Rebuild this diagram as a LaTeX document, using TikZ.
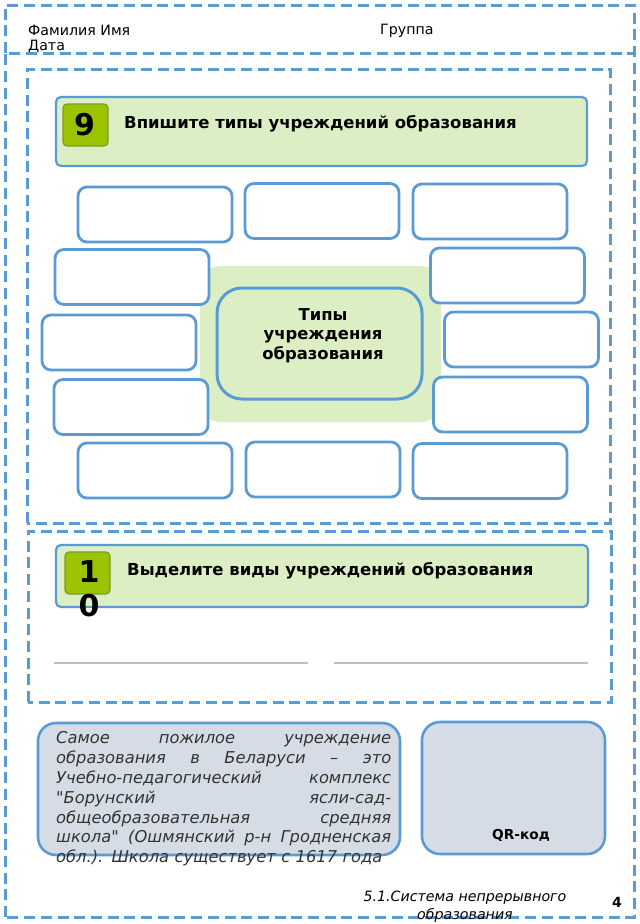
\documentclass[tikz,border=0pt]{standalone}
\usepackage{fontspec}
\setmainfont{DejaVu Sans}
\newfontfamily\notefont{DejaVu Sans}
\definecolor{frameblue}{HTML}{5B9BD5}
\definecolor{lightgreen}{HTML}{DCEFC4}
\definecolor{badgegreen}{HTML}{9BC400}
\definecolor{badgeedge}{HTML}{7A9A2E}
\definecolor{panelgrey}{HTML}{D6DCE5}
\definecolor{rulegrey}{HTML}{BFBFBF}
\definecolor{noteink}{HTML}{333333}
\tikzset{
  dashframe/.style={draw=frameblue,line width=3pt,dash pattern=on 11pt off 5.7pt},
  slot/.style={draw=frameblue,line width=2.8pt,fill=white,rounded corners=9pt,inner sep=0pt,minimum width=154pt,minimum height=55pt},
  banner/.style={draw=frameblue,line width=2.2pt,fill=lightgreen,rounded corners=5pt,inner sep=0pt},
  badge/.style={draw=badgeedge,line width=1.2pt,fill=badgegreen,rounded corners=4pt,inner sep=0pt,minimum width=45pt,minimum height=42pt},
  panel/.style={draw=frameblue,line width=2.6pt,fill=panelgrey,rounded corners=18pt,inner sep=0pt},
  headtext/.style={font=\fontsize{16.5}{20}\selectfont\bfseries,anchor=west,inner sep=0pt},
  plain/.style={font=\fontsize{14.2}{17}\selectfont,anchor=west,inner sep=0pt},
  digit/.style={font=\fontsize{30}{34}\selectfont\bfseries,inner sep=0pt,align=center},
  rulegreyline/.style={draw=rulegrey,line width=2.6pt}
}
\newcommand{\noteline}[1]{\leavevmode\hbox to 335pt{#1}}
\begin{document}
\begin{tikzpicture}[x=1pt,y=-1pt]
\useasboundingbox (0,0) rectangle (640,924);
\fill[white] (0,0) rectangle (640,924);
% dashed frames
\draw[dashframe] (5,53) -- (5,5) -- (634,5) -- (634,53);
\draw[dashframe] (5,917) -- (5,53) -- (634,53) -- (634,917) -- cycle;
\draw[dashframe] (27,523) -- (27,69) -- (610,69) -- (610,523) -- cycle;
\draw[dashframe] (28,702) -- (28,531) -- (611,531) -- (611,702) -- cycle;
% header
\node[plain] (surname) at (28,30.5) {Фамилия Имя};
\node[plain] (datefield) at (28,46.5) {Дата};
\node[plain] (groupfield) at (380,30.5) {Группа};
% task 9
\node[banner,minimum width=531pt,minimum height=69pt] (bannerA) at (321.5,131.5) {};
\node[badge] (badgeA) at (85.5,125) {};
\node[digit] (numA) at (84.5,125) {9};
\node[headtext] (headA) at (124,124) {Впишите типы учреждений образования};
% centre
\node[fill=lightgreen,rounded corners=20pt,minimum width=241pt,minimum height=156pt,inner sep=0pt] (halo) at (320.5,344) {};
\node[draw=frameblue,line width=3pt,fill=lightgreen,rounded corners=25pt,minimum width=205pt,minimum height=111pt,inner sep=0pt] (centre) at (319.5,343.5) {};
\node[inner sep=0pt,align=center,font=\fontsize{16.4}{19.5}\selectfont\bfseries] (centretext) at (323,335.5) {Типы\\учреждения\\образования};
% slots
\node[slot] (s1) at (155,214.5) {};
\node[slot] (s2) at (322,211) {};
\node[slot] (s3) at (490,211.5) {};
\node[slot] (s4) at (132,277) {};
\node[slot] (s5) at (507.5,275.5) {};
\node[slot] (s6) at (119,342.5) {};
\node[slot] (s7) at (521.5,339.5) {};
\node[slot] (s8) at (131,407) {};
\node[slot] (s9) at (510.5,404.5) {};
\node[slot] (s10) at (155,470.5) {};
\node[slot] (s11) at (323,469.5) {};
\node[slot] (s12) at (490,471) {};
% task 10
\node[banner,minimum width=532pt,minimum height=62pt] (bannerB) at (322,576) {};
\node[badge] (badgeB) at (87.5,573) {};
\node[digit] (numB) at (89,589) {1\\0};
\node[headtext] (headB) at (127,570.5) {Выделите виды учреждений образования};
\coordinate (ruleAa) at (54,663);
\coordinate (ruleAb) at (308,663);
\coordinate (ruleBa) at (334,663);
\coordinate (ruleBb) at (588,663);
\draw[rulegreyline] (ruleAa) -- (ruleAb);
\draw[rulegreyline] (ruleBa) -- (ruleBb);
% note
\node[panel,minimum width=362pt,minimum height=132pt] (notebox) at (219,789) {};
\node[anchor=north west,inner sep=0pt,text=noteink,text width=335pt,font=\notefont\fontsize{16.3}{19.8}\selectfont\itshape,align=left] (note) at (56,731.5) {%
\noteline{Самое\hfill пожилое\hfill учреждение}\\
\noteline{образования\hfill в\hfill Беларуси\hfill –\hfill это}\\
\noteline{Учебно-педагогический\hfill комплекс}\\
\noteline{"Борунский\hfill ясли-сад-}\\
\noteline{общеобразовательная\hfill средняя}\\
\noteline{школа"\hfill (Ошмянский\hfill р-н\hfill Гродненская}\\
обл.). Школа существует с 1617 года};
% QR
\node[panel,minimum width=183pt,minimum height=132pt] (qr) at (513.5,788) {};
\node[font=\fontsize{13.7}{16}\selectfont\bfseries,inner sep=0pt] (qrlabel) at (521,835.5) {QR-код};
% footer
\node[font=\fontsize{14.2}{17.5}\selectfont\itshape,align=center,inner sep=0pt] (footer) at (465,906.5) {5.1.Система непрерывного\\образования};
\node[font=\fontsize{14}{16}\selectfont\bfseries,inner sep=0pt] (pagenum) at (617,902) {4};
\end{tikzpicture}
\end{document}
